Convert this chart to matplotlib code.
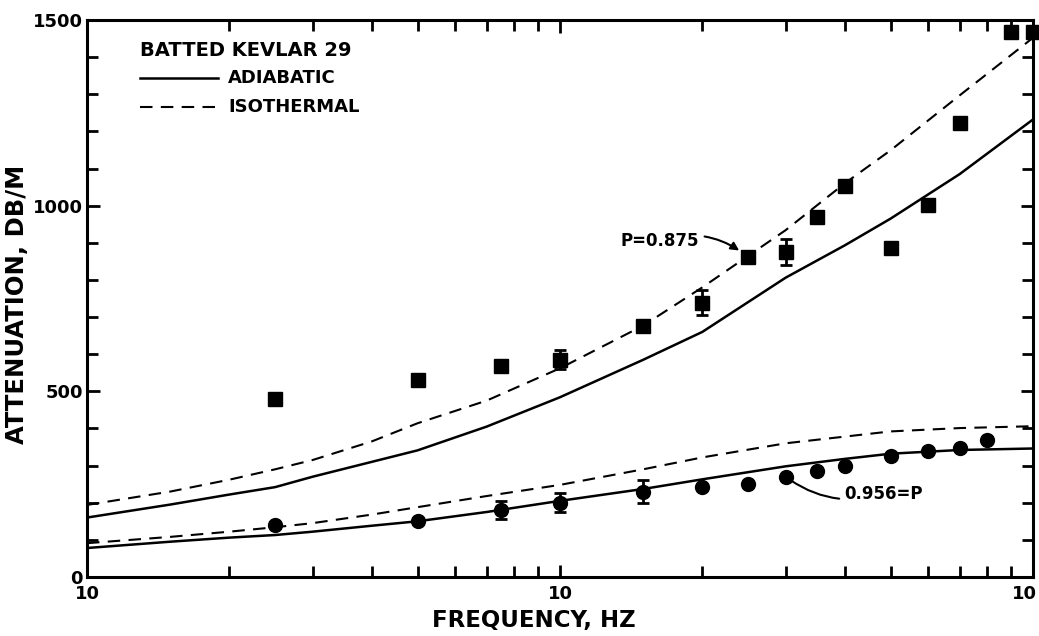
import matplotlib
matplotlib.use("Agg")
import matplotlib.pyplot as plt
from matplotlib.ticker import FixedLocator, FixedFormatter, NullFormatter
from matplotlib.transforms import ScaledTranslation

# theory curves
freq_curve = [100, 150, 200, 250, 300, 400, 500, 700, 1000, 1500, 2000, 3000, 4000, 5000, 7000, 10000]
adi_875 = [160, 195, 222, 242, 270, 310, 341, 405, 484, 585, 660, 806, 893, 965, 1085, 1232]
iso_875 = [194, 230, 262, 290, 315, 365, 414, 475, 562, 677, 780, 934, 1060, 1149, 1297, 1452]
adi_956 = [78, 95, 106, 113, 122, 138, 150, 175, 205, 237, 263, 298, 318, 332, 342, 346]
iso_956 = [91, 108, 122, 134, 145, 168, 188, 218, 248, 290, 322, 360, 378, 392, 401, 406]

# measured, P = 0.875 (squares)
sq_freq = [250, 500, 750, 1000, 1500, 2000, 2500, 3000, 3500, 4000, 5000, 6000, 7000, 9000, 10000]
sq_att = [478, 530, 567, 585, 677, 739, 863, 874, 970, 1054, 887, 1003, 1223, 1468, 1468]
sq_err = [0, 0, 0, 25, 0, 33, 0, 35, 0, 0, 0, 0, 0, 0, 0]

# measured, P = 0.956 (circles)
ci_freq = [250, 500, 750, 1000, 1500, 2000, 2500, 3000, 3500, 4000, 5000, 6000, 7000, 8000]
ci_att = [140, 150, 180, 200, 230, 243, 250, 270, 285, 300, 325, 339, 347, 368]
ci_err = [0, 0, 25, 25, 30, 0, 0, 0, 0, 0, 0, 0, 0, 0]

plt.rcParams['font.family'] = 'DejaVu Sans'
plt.rcParams['font.weight'] = 'bold'

fig = plt.figure(figsize=(10.39, 6.36), dpi=100)
ax = fig.add_axes([0.0837, 0.0928, 0.9105, 0.8758])

dash = (0, (6, 4))
ax.plot(freq_curve, adi_875, color='black', lw=1.8)
ax.plot(freq_curve, iso_875, color='black', lw=1.5, linestyle=dash)
ax.plot(freq_curve, adi_956, color='black', lw=1.8)
ax.plot(freq_curve, iso_956, color='black', lw=1.5, linestyle=dash)

ax.plot(sq_freq, sq_att, 's', color='black', ms=10, clip_on=False, zorder=5)
ax.plot(ci_freq, ci_att, 'o', color='black', ms=10, clip_on=False, zorder=5)

sq_ef = [f for f, e in zip(sq_freq, sq_err) if e > 0]
sq_ea = [a for a, e in zip(sq_att, sq_err) if e > 0]
sq_ee = [e for e in sq_err if e > 0]
ax.errorbar(sq_ef, sq_ea, yerr=sq_ee, fmt='none', ecolor='black', elinewidth=2, capsize=4, capthick=2)
ci_ef = [f for f, e in zip(ci_freq, ci_err) if e > 0]
ci_ea = [a for a, e in zip(ci_att, ci_err) if e > 0]
ci_ee = [e for e in ci_err if e > 0]
ax.errorbar(ci_ef, ci_ea, yerr=ci_ee, fmt='none', ecolor='black', elinewidth=2, capsize=4, capthick=2)

ax.set_xscale('log')
ax.set_xlim(100, 10000)
ax.set_ylim(0, 1500)

ax.xaxis.set_major_locator(FixedLocator([100, 1000, 10000]))
ax.xaxis.set_major_formatter(FixedFormatter(['10', '10', '10']))
ax.xaxis.set_minor_locator(FixedLocator([m * d for d in (100, 1000) for m in range(2, 10)]))
ax.xaxis.set_minor_formatter(NullFormatter())
ax.yaxis.set_major_locator(FixedLocator([0, 500, 1000, 1500]))
ax.yaxis.set_minor_locator(FixedLocator(list(range(100, 1500, 100))))

for s in ax.spines.values():
    s.set_linewidth(2.2)
ax.tick_params(which='both', direction='in', top=True, right=True, width=2, labelsize=13)
ax.tick_params(which='major', length=9)
ax.tick_params(which='minor', length=8)
ax.tick_params(axis='x', pad=6)
ax.tick_params(axis='y', pad=3)

# last "10" sits right at the figure edge
fig.canvas.draw()
last = ax.get_xticklabels()[-1]
last.set_ha('right')
last.set_transform(last.get_transform() + ScaledTranslation(4 / 100, 0, fig.dpi_scale_trans))

ax.set_xlabel('FREQUENCY, HZ', fontsize=16.5, fontweight='bold')
ax.xaxis.set_label_coords(0.472, -0.057)
ax.set_ylabel('ATTENUATION, DB/M', fontsize=17.5, fontweight='bold')
ax.yaxis.set_label_coords(-0.061, 0.49)

# legend block
ax.text(0.056, 0.946, 'BATTED KEVLAR 29', transform=ax.transAxes, fontsize=14, va='center')
ax.plot([0.056, 0.138], [0.896, 0.896], transform=ax.transAxes, color='black', lw=1.8)
ax.text(0.149, 0.896, 'ADIABATIC', transform=ax.transAxes, fontsize=13, va='center')
ax.plot([0.056, 0.138], [0.844, 0.844], transform=ax.transAxes, color='black', lw=1.5, linestyle=dash)
ax.text(0.149, 0.844, 'ISOTHERMAL', transform=ax.transAxes, fontsize=13, va='center')

ax.annotate('P=0.875', xy=(2420, 875), xytext=(1343, 906), fontsize=12, va='center', ha='left',
            arrowprops=dict(arrowstyle='-|>', color='black', lw=1.5,
                            connectionstyle='arc3,rad=-0.25', shrinkA=2, shrinkB=2))
ax.annotate('0.956=P', xy=(3000, 270), xytext=(4000, 223), fontsize=12, va='center', ha='left',
            arrowprops=dict(arrowstyle='-', color='black', lw=1.5,
                            connectionstyle='arc3,rad=-0.25', shrinkA=2, shrinkB=4))

fig.savefig('out.png', dpi=100)
